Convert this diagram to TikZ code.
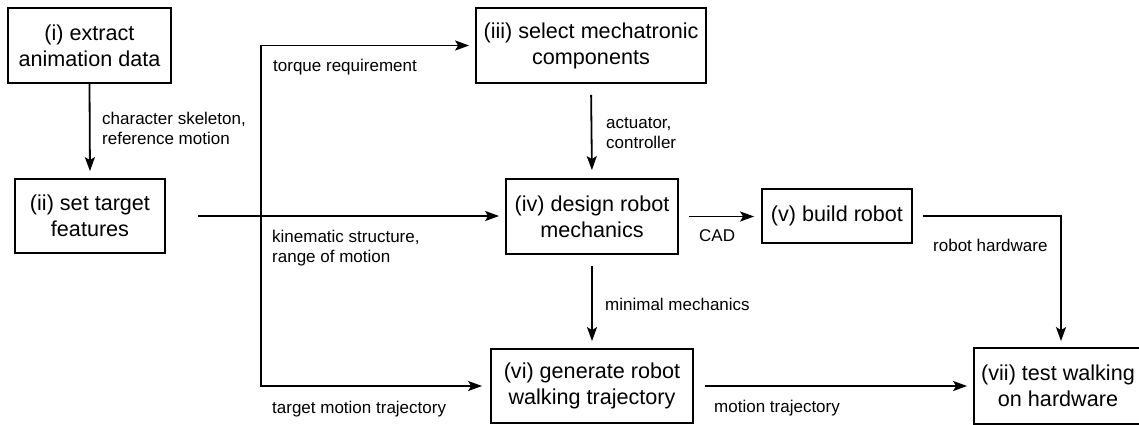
\documentclass[tikz,border=0pt]{standalone}
\usepackage{fontspec}
\setmainfont{Liberation Sans}
\usetikzlibrary{arrows.meta}
\begin{document}
\begin{tikzpicture}[x=1pt,y=-1pt,
  box/.style={draw,line width=1.8pt,align=center,inner sep=0pt,font=\fontsize{21.6}{26}\selectfont},
  lbl/.style={anchor=west,align=left,inner sep=0pt,font=\fontsize{17}{20}\selectfont},
  flow/.style={line width=1.8pt,-{Stealth[length=14pt,width=10pt,inset=3pt]}}]
\useasboundingbox (0,0) rectangle (1139,424);
% boxes
\node[box,minimum width=163pt,minimum height=75pt] (i) at (89.5,45.5) {(i) extract\\animation data};
\node[box,minimum width=150pt,minimum height=74pt] (ii) at (90,216) {(ii) set target\\features};
\node[box,minimum width=230pt,minimum height=75pt] (iii) at (591,45.5) {(iii) select mechatronic\\components};
\node[box,minimum width=172pt,minimum height=75pt] (iv) at (592,216.5) {(iv) design robot\\mechanics};
\node[box,minimum width=150pt,minimum height=54pt] (v) at (837,216) {(v) build robot};
\node[box,minimum width=202pt,minimum height=74pt] (vi) at (592,386) {(vi) generate robot\\walking trajectory};
\node[box,draw=none,minimum width=166pt,minimum height=74pt] (vii) at (1058,386) {(vii) test walking\\on hardware};
\draw[line width=1.8pt] (vii.north west) rectangle ([xshift=14pt]vii.south east);
% helper coordinates
\coordinate (br) at (261,216);
\coordinate (rh) at (1061,216);
% connectors
\draw[flow,shorten >=7pt] (i.south) -- (ii.north);
\draw[flow,shorten <=32pt,shorten >=6pt] (ii.east) -- (ii.east -| iv.west);
\draw[flow,shorten >=6pt] (br) -- (br |- iii.west) -- (iii.west);
\draw[flow,shorten >=8pt] (br) -- (br |- vi.west) -- (vi.west);
\draw[flow,shorten <=11pt,shorten >=8pt] (iii.south) -- (iv.north);
\draw[flow,shorten <=11pt,shorten >=7pt] (iv.south) -- (vi.north);
\draw[flow,shorten <=10pt,shorten >=7pt] (iv.east) -- (iv.east -| v.west);
\draw[flow,shorten <=10pt,shorten >=7pt] (v.east) -- (rh) -- (rh |- vii.north);
\draw[flow,shorten <=11pt,shorten >=7pt] (vi.east) -- (vi.east -| vii.west);
% labels
\node[lbl] (l1) at (102,128) {character skeleton,\\reference motion};
\node[lbl] (l2) at (273,67) {torque requirement};
\node[lbl] (l3) at (272,248) {kinematic structure,\\range of motion};
\node[lbl] (l4) at (272,409) {target motion trajectory};
\node[lbl] (l5) at (606,133) {actuator,\\controller};
\node[lbl] (l6) at (699,236) {CAD};
\node[lbl] (l7) at (933,245.5) {robot hardware};
\node[lbl] (l8) at (605,304) {minimal mechanics};
\node[lbl] (l9) at (714,408.5) {motion trajectory};
\end{tikzpicture}
\end{document}
